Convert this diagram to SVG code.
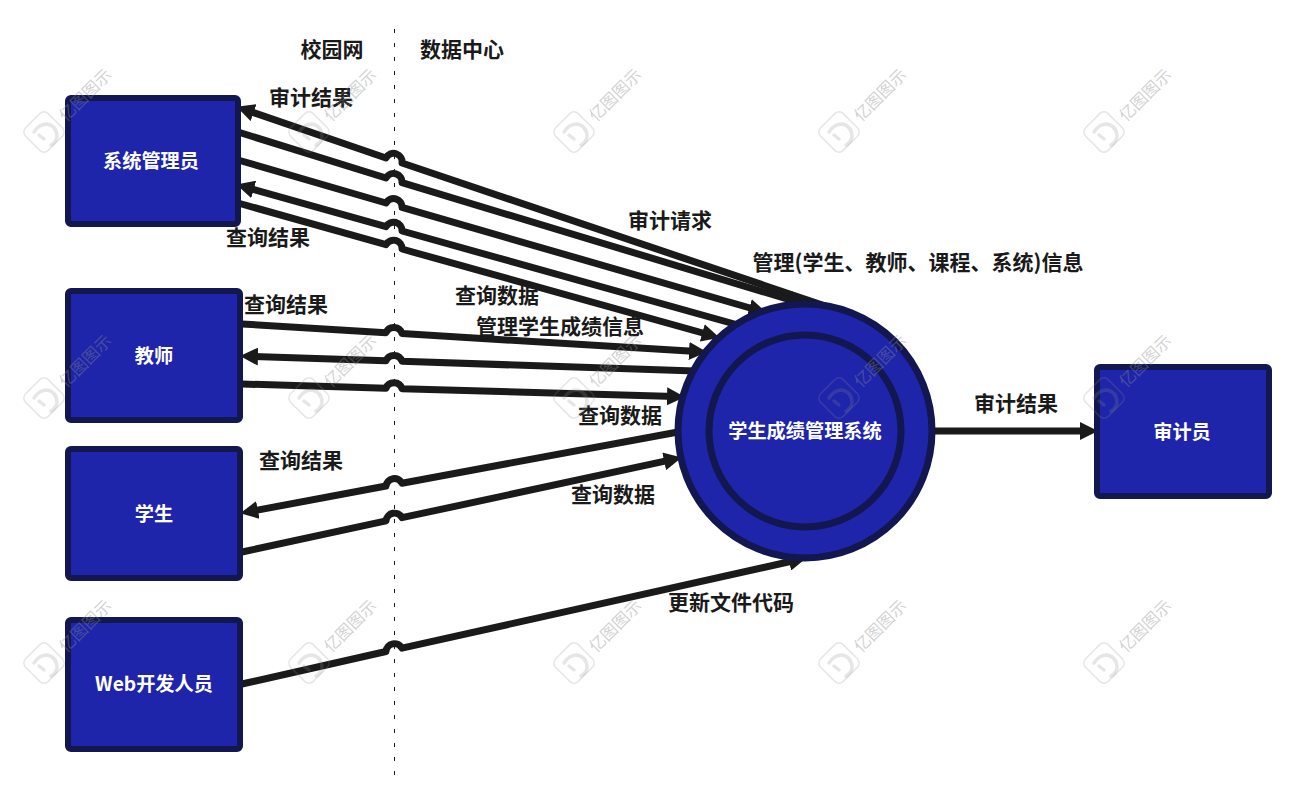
<svg xmlns="http://www.w3.org/2000/svg" width="1300" height="796" viewBox="0 0 1300 796">
<style>
text{font-family:"Noto Sans CJK SC","Noto Sans",sans-serif;font-weight:700;text-anchor:middle}
.lb{font-size:21px;fill:#1a1a1a}
.nt{font-size:19.200px;fill:#fff}
.box{fill:#1e25aa;stroke:#12174f;stroke-width:6}
.c{fill:none;stroke:#1a1a1a;stroke-width:7;stroke-linejoin:round}
.e{marker-end:url(#ah)}
.s{marker-start:url(#ahs)}
.wm{fill:none;stroke:#8c8c8c;stroke-opacity:.22;stroke-linecap:round}
.wt{font-size:16.500px;font-weight:400;fill:#8c8c8c;fill-opacity:.4}
</style>
<defs>
<marker id="ah" markerUnits="userSpaceOnUse" markerWidth="18" markerHeight="18" viewBox="0 0 18 18" refX="8" refY="9" orient="auto"><path d="M0,0L18,9L0,18z" fill="#1a1a1a"/></marker>
<marker id="ahs" markerUnits="userSpaceOnUse" markerWidth="18" markerHeight="18" viewBox="0 0 18 18" refX="8" refY="9" orient="auto-start-reverse"><path d="M0,0L18,9L0,18z" fill="#1a1a1a"/></marker>
<g id="w">
<rect x="-16" y="-16" width="32" height="32" rx="6" transform="rotate(45)" class="wm" stroke-width="1.500"/>
<path d="M-10,0Q-5,-8 3,-8Q13,-6 13,5Q12,10 7,13" class="wm" stroke-width="3.500"/>
<path d="M-5,3L0,7" class="wm" stroke-width="3.500"/>
<text x="41" y="-31" class="wt" transform="rotate(-45 41 -37)">亿图图示</text>
</g>
</defs>
<path id="divider" d="M394.500,29V775" fill="none" stroke="#1a1a1a" stroke-width="1" stroke-dasharray="4 10"/>
<g id="connectors">
<path class="c s" d="M246,110L386,158A8.500,8.500 0 0 1 402,163L855,316"/>
<path class="c e" d="M238,132L386,178A8.500,8.500 0 0 1 402,182.700L797,302"/>
<path class="c e" d="M238,160L386,203A8.500,8.500 0 0 1 402,207.400L757,310"/>
<path class="c s" d="M246,187.300L386,226.700A8.500,8.500 0 0 1 402,231L738,325"/>
<path class="c e" d="M238,203L386,244.700A8.500,8.500 0 0 1 402,249L710,335"/>
<path class="c e" d="M242,324L386,332.700A8.500,8.500 0 0 1 402,333.600L697,351.500"/>
<path class="c s" d="M250,356.300L386,360.800A8.500,8.500 0 0 1 402,361.300L695,371"/>
<path class="c e" d="M242,384L386,388.300A8.500,8.500 0 0 1 402,388.700L675,396.600"/>
<path class="c s" d="M250,511.500L386,486A8.500,8.500 0 0 1 402,483.200L678,432"/>
<path class="c e" d="M242,552L386,520.900A8.500,8.500 0 0 1 402,517.700L672,459.700"/>
<path class="c e" d="M242,684L386,651.500A8.500,8.500 0 0 1 402,648.200L797,560"/>
<path class="c e" d="M934,431H1088"/>
</g>
<g id="admin"><rect class="box" x="68" y="98" width="170" height="126" rx="3"/><text class="nt" x="151" y="168">系统管理员</text></g>
<g id="teacher"><rect class="box" x="68" y="291" width="172" height="129" rx="3"/><text class="nt" x="154" y="363">教师</text></g>
<g id="student"><rect class="box" x="68" y="449" width="172" height="129" rx="3"/><text class="nt" x="154" y="521">学生</text></g>
<g id="webdev"><rect class="box" x="68" y="620" width="172" height="129" rx="3"/><text class="nt" x="154" y="691">Web开发人员</text></g>
<g id="auditor"><rect class="box" x="1097" y="367" width="172" height="129" rx="3"/><text class="nt" x="1182" y="439">审计员</text></g>
<g id="system"><circle cx="805" cy="431" r="127" fill="#1e25aa" stroke="#12174f" stroke-width="7"/><circle cx="805" cy="431" r="96" fill="#1e25aa" stroke="#12174f" stroke-width="7"/><text class="nt" x="805" y="438">学生成绩管理系统</text></g>
<g id="labels">
<text class="lb" x="332" y="57">校园网</text>
<text class="lb" x="462" y="57">数据中心</text>
<text class="lb" x="311" y="105">审计结果</text>
<text class="lb" x="670" y="228">审计请求</text>
<text class="lb" x="918" y="270" textLength="331" lengthAdjust="spacingAndGlyphs">管理(学生、教师、课程、系统)信息</text>
<text class="lb" x="268" y="245">查询结果</text>
<text class="lb" x="286" y="312">查询结果</text>
<text class="lb" x="497" y="303">查询数据</text>
<text class="lb" x="560" y="334">管理学生成绩信息</text>
<text class="lb" x="620" y="423">查询数据</text>
<text class="lb" x="301" y="468">查询结果</text>
<text class="lb" x="613" y="502">查询数据</text>
<text class="lb" x="731" y="610">更新文件代码</text>
<text class="lb" x="1016" y="411">审计结果</text>
</g>
<g id="watermarks">
<use href="#w" x="44" y="132"/><use href="#w" x="309" y="132"/><use href="#w" x="574" y="132"/><use href="#w" x="839" y="132"/><use href="#w" x="1104" y="132"/>
<use href="#w" x="44" y="398"/><use href="#w" x="309" y="398"/><use href="#w" x="574" y="398"/><use href="#w" x="839" y="398"/><use href="#w" x="1104" y="398"/>
<use href="#w" x="44" y="663"/><use href="#w" x="309" y="663"/><use href="#w" x="574" y="663"/><use href="#w" x="839" y="663"/><use href="#w" x="1104" y="663"/>
</g>
</svg>
